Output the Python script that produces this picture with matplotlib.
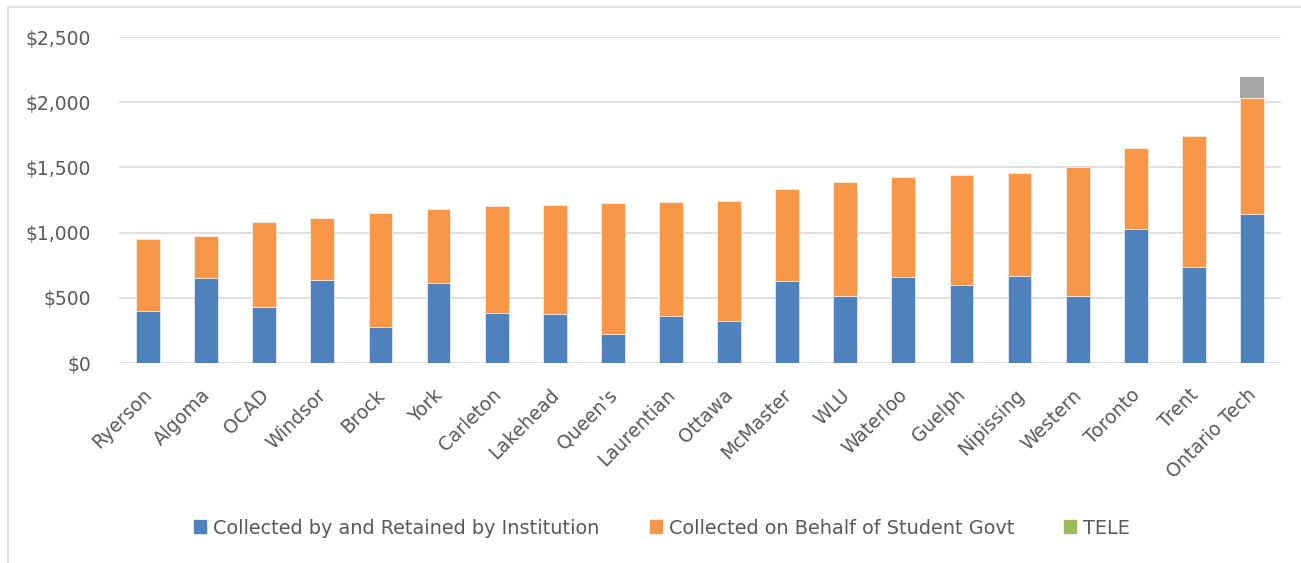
import matplotlib.pyplot as plt
import matplotlib.transforms as mtransforms
from matplotlib.patches import Patch, Rectangle
import numpy as np

# values
schools = ['Ryerson', 'Algoma', 'OCAD', 'Windsor', 'Brock', 'York', 'Carleton',
           'Lakehead', "Queen's", 'Laurentian', 'Ottawa', 'McMaster', 'WLU',
           'Waterloo', 'Guelph', 'Nipissing', 'Western', 'Toronto', 'Trent',
           'Ontario Tech']
institution = [400, 652, 430, 637, 276, 614, 383, 376, 222, 360, 322, 629, 514,
               660, 598, 667, 514, 1028, 736, 1143]
totals = [950, 975, 1080, 1115, 1150, 1180, 1205, 1208, 1228, 1232, 1245, 1335,
          1385, 1430, 1445, 1455, 1500, 1650, 1740, 2035]
tele = [0] * 19 + [160]
student_govt = [t - i for t, i in zip(totals, institution)]

yticks = [0, 500, 1000, 1500, 2000, 2500]
ytick_labels = ['$0', '$500', '$1,000', '$1,500', '$2,000', '$2,500']

blue = '#4F81BD'
orange = '#F79646'
grey = '#A5A5A5'
green = '#9BBB59'
txt = '#595959'

plt.rcParams['font.family'] = ['DejaVu Sans']

W, H = 1301, 563
fig = plt.figure(figsize=(W / 100, H / 100), dpi=100)

# chart area border (cut off on right and bottom)
fig.patches.append(Rectangle((8 / W, -0.1), 1.2, 1 - 7 / H + 0.1,
                             transform=fig.transFigure, fill=False,
                             edgecolor='#D9D9D9', linewidth=1.2))

ax = fig.add_axes([119 / W, 1 - 363 / H, (1281 - 119) / W, (363 - 37) / H])

x = np.arange(len(schools))
w = 0.41
ax.bar(x, institution, w, color=blue, edgecolor='white', linewidth=0.4, zorder=3)
ax.bar(x, student_govt, w, bottom=institution, color=orange,
       edgecolor='white', linewidth=0.4, zorder=3)
ax.bar(x, tele, w, bottom=totals, color=grey, linewidth=0, zorder=3)

ax.set_xlim(-0.5, len(schools) - 0.5)
ax.set_ylim(0, 2500)
ax.set_yticks(yticks)
ax.set_yticklabels(ytick_labels, fontsize=13.5, color=txt)
ax.yaxis.grid(True, color='#D9D9D9', linewidth=1.2, zorder=0)
ax.tick_params(axis='y', length=0, pad=20)
ax.tick_params(axis='x', length=0, pad=21)
for s in ax.spines.values():
    s.set_visible(False)

ax.set_xticks(x)
ax.set_xticklabels(schools, rotation=45, ha='right', va='center',
                   rotation_mode='anchor', fontsize=13.5, color=txt)
off = mtransforms.ScaledTranslation(1 / 72, 0, fig.dpi_scale_trans)
for lab in ax.get_xticklabels():
    lab.set_transform(lab.get_transform() + off)

handles = [Patch(color=blue), Patch(color=orange), Patch(color=green)]
names = ['Collected by and Retained by Institution',
         'Collected on Behalf of Student Govt', 'TELE']
fig.legend(handles, names, loc='center', bbox_to_anchor=(662 / W, 1 - 528 / H),
           ncol=3, frameon=False, fontsize=13.9, labelcolor=txt,
           handlelength=0.62, handleheight=0.62, handletextpad=0.36,
           columnspacing=2.6)

fig.savefig('out.png', dpi=100)
